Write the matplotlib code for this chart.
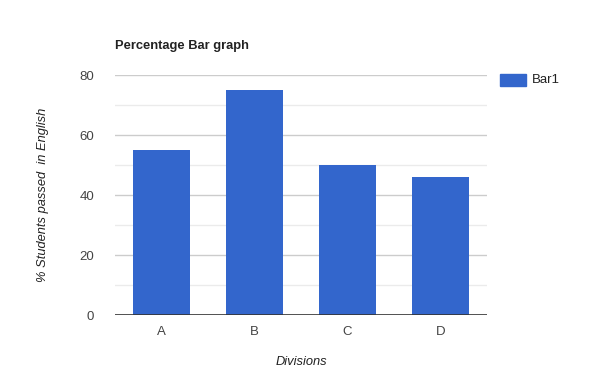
import matplotlib
matplotlib.use("Agg")
import matplotlib.pyplot as plt
from matplotlib.patches import Rectangle

categories = ["A", "B", "C", "D"]
values = [55, 75, 50, 46]
series_name = "Bar1"
yticks = [0, 20, 40, 60, 80]
minor_ticks = [10, 30, 50, 70]

plt.rcParams['font.family'] = ['Liberation Sans', 'DejaVu Sans']

fig = plt.figure(figsize=(6, 3.9), dpi=100)
ax = fig.add_axes([115/600, 1 - 315/390, 372/600, 240/390])

x = range(len(categories))
ax.bar(x, values, width=0.613, color="#3366cc", zorder=3, label=series_name)
ax.set_xlim(-0.5, len(categories) - 0.5)
ax.set_ylim(0, 80)

for t in yticks[1:]:
    ax.axhline(t, color="#cccccc", lw=1, zorder=1)
for t in minor_ticks:
    ax.axhline(t, color="#ebebeb", lw=1, zorder=1)
ax.axhline(0, color="#333333", lw=1.2, zorder=4)

ax.set_yticks(yticks)
ax.set_yticklabels([str(t) for t in yticks])
ax.set_xticks(list(x))
ax.set_xticklabels(categories)
ax.tick_params(axis='both', length=0, labelsize=9.5, labelcolor="#444444")
ax.tick_params(axis='y', pad=15)
ax.tick_params(axis='x', pad=8)
for s in ax.spines.values():
    s.set_visible(False)

fig.text(115/600, 1 - 46/390, "Percentage Bar graph", fontsize=9.3, fontweight='bold',
         color="#222222", ha='left', va='center')
fig.text(43/600, 1 - 195/390, "% Students passed  in English", fontsize=9.3, style='italic',
         color="#222222", rotation=90, ha='center', va='center')
fig.text(301/600, 1 - 362/390, "Divisions", fontsize=9.3, style='italic',
         color="#222222", ha='center', va='center')

fig.patches.append(Rectangle((500/600, 1 - 86/390), 26/600, 12/390,
                             transform=fig.transFigure, color="#3366cc", figure=fig))
fig.text(532/600, 1 - 80/390, series_name, fontsize=9.5, color="#222222",
         ha='left', va='center')

fig.savefig("out.png", dpi=100)
